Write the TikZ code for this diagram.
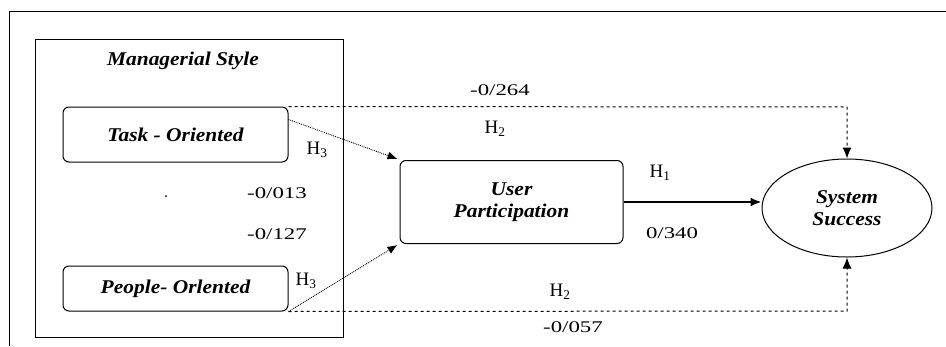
\documentclass[tikz,border=0pt]{standalone}
\usepackage{fontspec}
\setmainfont{Liberation Serif}
\newfontfamily\bifont[FakeStretch=1.1]{Liberation Serif}
\newfontfamily\numfont[FakeStretch=1.4]{Liberation Serif}
\usetikzlibrary{arrows.meta,shapes.geometric}
\begin{document}
\begin{tikzpicture}[x=1pt,y=-1pt,
  btext/.style={font=\fontsize{19.5}{22}\bifont\bfseries\itshape,align=center},
  box/.style={btext,draw,line width=1pt,rounded corners=6pt,inner sep=0pt},
  lbl/.style={font=\fontsize{16.3}{18}\numfont,inner sep=0pt},
  hlbl/.style={font=\fontsize{19}{21}\selectfont,inner sep=0pt},
  tip/.style={-{Latex[length=11pt,width=9pt]}},
  smalltip/.style={-{Latex[length=10pt,width=8pt]}}]
\useasboundingbox (0,0) rectangle (946,346);
% outer frame (top and left edges)
\draw[line width=0.9pt] (9,346) -- (9,11) -- (946,11);
% managerial style group
\draw[line width=1pt] (35,39) rectangle (343,337);
\node[btext,inner sep=0pt] (mstitle) at (183,61) {Managerial Style};
\node[box,minimum width=225pt,minimum height=55pt] (task) at (175.5,134.5) {Task - Oriented};
\node[box,minimum width=225pt,minimum height=45pt] (people) at (175.5,288.5) {People- Orlented};
\node[box,minimum width=223pt,minimum height=83pt] (up) at (511.5,202) {User\\Participation};
\node[box,ellipse,rounded corners=0pt,minimum width=170pt,minimum height=98pt] (ss) at (847,208) {System\\Success};
\fill (166,196) circle (1pt);
% connectors
\coordinate (tc) at (847,107);
\coordinate (bc) at (847,311);
\draw[dashed,line width=1pt,tip] (task.north east) -- (tc) -- (ss.north);
\draw[dashed,line width=1pt,tip] (people.south east) -- (bc) -- (ss.south);
\draw[densely dotted,line width=0.9pt,smalltip] ([yshift=-13pt]task.north east) -- ([xshift=-2pt,yshift=1pt]up.north west);
\draw[densely dotted,line width=0.9pt,smalltip] (people.south east) -- ([xshift=-2pt,yshift=-1pt]up.south west);
\draw[line width=2pt,tip] (up.east) -- (ss.west |- up.east);
% labels
\node[lbl] (l264) at (500,90) {-0/264};
\node[hlbl] (h2t) at (495,129) {H\textsubscript{2}};
\node[hlbl] (h3t) at (317,150) {H\textsubscript{3}};
\node[lbl] (l013) at (277,193) {-0/013};
\node[lbl] (l127) at (277,234) {-0/127};
\node[hlbl] (h3b) at (306,281) {H\textsubscript{3}};
\node[hlbl] (h1) at (660,173) {H\textsubscript{1}};
\node[lbl] (l340) at (672,233) {0/340};
\node[hlbl] (h2b) at (560,292) {H\textsubscript{2}};
\node[lbl] (l057) at (573,327) {-0/057};
\end{tikzpicture}
\end{document}
